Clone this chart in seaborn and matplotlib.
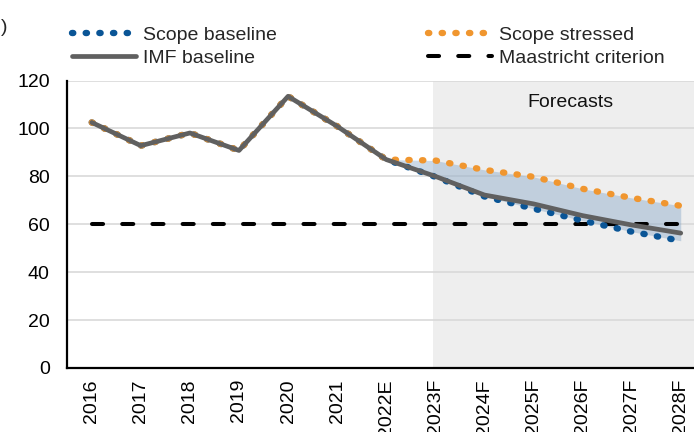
import numpy as np
import matplotlib
matplotlib.use('Agg')
import matplotlib.pyplot as plt
import seaborn as sns

# Datos (deuda publica, % del PIB)
years = ['2016', '2017', '2018', '2019', '2020', '2021', '2022E',
         '2023F', '2024F', '2025F', '2026F', '2027F', '2028F']
historico = [102.5, 92.8, 98.1, 90.8, 113.4, 100.9, 87.0]
scope_baseline = historico + [79.8, 71.6, 66.5, 61.5, 56.9, 53.1]
scope_stressed = historico + [86.6, 82.7, 79.8, 74.8, 71.0, 67.7]
imf_baseline = historico + [80.0, 72.2, 68.5, 63.6, 59.7, 56.3]
maastricht = [60] * len(years)
y_ticks = [0, 20, 40, 60, 80, 100, 120]

sns.set_theme(style='white')
plt.rcParams['font.family'] = ['Liberation Sans', 'DejaVu Sans']
plt.rcParams['font.size'] = 14

fig = plt.figure(figsize=(6.94, 4.32), dpi=100)
ax = fig.add_axes([67 / 694, 1 - 368 / 432, 627 / 694, 287.5 / 432])

x = np.arange(len(years))
ini = years.index('2022E')

# zona de previsiones
ax.axvspan(6.95, 12.6, color='#eeeeee', lw=0, zorder=0)
ax.fill_between(x[ini:], scope_baseline[ini:], scope_stressed[ini:],
                color='#7fa2c4', alpha=0.4, lw=0, zorder=1)

puntos = (0, (0.2, 1.94))
series = [
    (maastricht, 'Maastricht criterion', 'black', 2.9, (0, (2.75, 4.75))),
    (scope_baseline, 'Scope baseline', '#0a5596', 4.6, puntos),
    (scope_stressed, 'Scope stressed', '#f0962f', 4.6, puntos),
    (imf_baseline, 'IMF baseline', '#606060', 3.4, '-'),
]
for z, (vals, nombre, color, ancho, estilo) in enumerate(series):
    sns.lineplot(x=x, y=vals, ax=ax, color=color, linewidth=ancho,
                 linestyle=estilo, zorder=2 + z, label=nombre)
    linea = ax.lines[-1]
    linea.set_dash_capstyle('round')
    linea.set_solid_capstyle('round')

ax.set_xlim(-0.504, 12.27)
ax.set_ylim(0, 120)
ax.set_yticks(y_ticks)
ax.set_xticks(x)
ax.set_xticklabels(years, rotation=90)
ax.tick_params(axis='x', length=0, pad=8, labelsize=14, colors='black')
ax.tick_params(axis='y', length=0, pad=12.5, labelsize=14, colors='black')
ax.set_xlabel('')
ax.set_ylabel('')

ax.yaxis.grid(True, color='#d9d9d9', lw=1.2)
ax.xaxis.grid(False)
ax.set_axisbelow(True)
for lado in ['top', 'right']:
    ax.spines[lado].set_visible(False)
for lado in ['left', 'bottom']:
    ax.spines[lado].set_color('black')
    ax.spines[lado].set_linewidth(1.6)
    ax.spines[lado].set_zorder(7)

ax.text(9.75, 111, 'Forecasts', ha='center', va='center', fontsize=14, color='#111111')

handles, labels = ax.get_legend_handles_labels()
orden = ['Scope baseline', 'IMF baseline', 'Scope stressed', 'Maastricht criterion']
h = [handles[labels.index(o)] for o in orden]
leg = ax.legend(h, orden, ncol=2, loc='upper left', bbox_to_anchor=(72 / 694, 1 - 26 / 432),
                bbox_transform=fig.transFigure, frameon=False, fontsize=14,
                handlelength=3.3, handletextpad=0.36, columnspacing=7.75,
                labelspacing=0.3, borderpad=0, borderaxespad=0)
for lh in leg.get_lines():
    lh.set_dash_capstyle('round')
    lh.set_solid_capstyle('round')

fig.text(0.002, 1 - 27 / 432, ')', ha='left', va='center', fontsize=14)

plt.savefig('out.png', dpi=100, facecolor='white')
plt.close()
